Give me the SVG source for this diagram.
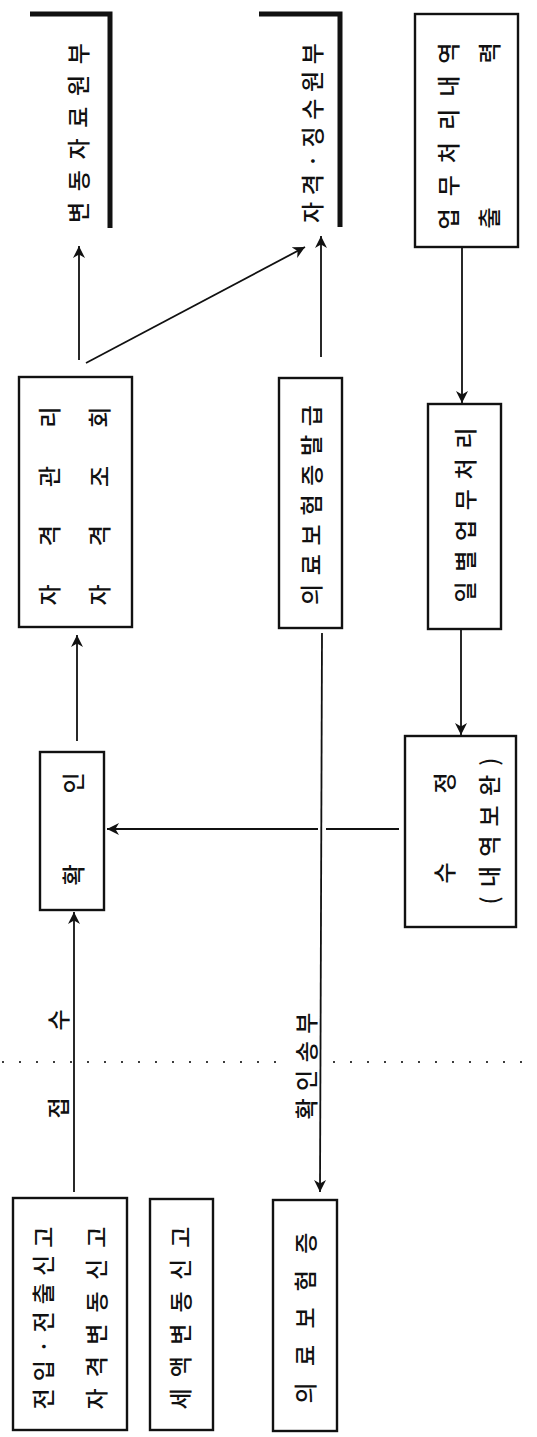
<svg xmlns="http://www.w3.org/2000/svg" width="537" height="1437" viewBox="0 0 537 1437">
<defs>
<marker id="ah" viewBox="0 0 10 10" refX="10" refY="5" markerWidth="12" markerHeight="12" markerUnits="userSpaceOnUse" orient="auto">
<path d="M0,0 L10,5 L0,10 L3,5 Z" fill="#111"/>
</marker>
<style>
.box{fill:#fff;stroke:#111;stroke-width:2.4}
.t{font-family:"Noto Sans CJK KR","Noto Sans",sans-serif;font-size:23px;font-weight:500;fill:#111;text-anchor:middle;dominant-baseline:central}
.ln{stroke:#111;stroke-width:1.8;fill:none}
.ar{stroke:#111;stroke-width:1.8;fill:none;marker-end:url(#ah)}
.br{stroke:#111;stroke-width:5;fill:none}
.dot{stroke:#111;stroke-width:2.2;stroke-linecap:round;stroke-dasharray:0 17;fill:none}
</style>
</defs>
<rect width="537" height="1437" fill="#fff"/>

<g id="connectors">
<line class="dot" x1="3" y1="1062" x2="285" y2="1062"/>
<line class="dot" x1="334" y1="1062" x2="537" y2="1062"/>
<line class="ar" x1="74" y1="1192" x2="74" y2="912"/>
<line class="ar" x1="77" y1="741" x2="77" y2="635"/>
<line class="ar" x1="79" y1="360" x2="79" y2="246"/>
<line class="ar" x1="86" y1="363" x2="305" y2="247"/>
<line class="ar" x1="321" y1="357" x2="321" y2="236"/>
<line class="ar" x1="322" y1="633" x2="320" y2="1192"/>
<line class="ar" x1="462" y1="247" x2="462" y2="403"/>
<line class="ar" x1="461" y1="629" x2="461" y2="735"/>
<line class="ln" x1="399" y1="829" x2="326" y2="829"/>
<line class="ar" x1="318" y1="829" x2="107" y2="829"/>
<text class="t" x="57" y="1108" transform="rotate(-90 57 1108)">접</text>
<text class="t" x="57" y="1020" transform="rotate(-90 57 1020)">수</text>
<text class="t" x="305" y="1066" transform="rotate(-90 305 1066)" textLength="107" lengthAdjust="spacing">확인송부</text>
</g>

<g id="node-jeonip">
<rect class="box" x="13" y="1198" width="114" height="232"/>
<text class="t" x="42" y="1318" transform="rotate(-90 42 1318)" textLength="183" lengthAdjust="spacing">전입·전출신고</text>
<text class="t" x="95" y="1318" transform="rotate(-90 95 1318)" textLength="183" lengthAdjust="spacing">자격변동신고</text>
</g>

<g id="node-seaek">
<rect class="box" x="150" y="1199" width="63" height="231"/>
<text class="t" x="179" y="1318" transform="rotate(-90 179 1318)" textLength="183" lengthAdjust="spacing">세액변동신고</text>
</g>

<g id="node-card">
<rect class="box" x="273" y="1200" width="64" height="231"/>
<text class="t" x="304" y="1318" transform="rotate(-90 304 1318)" textLength="171" lengthAdjust="spacing">의료보험증</text>
</g>

<g id="node-confirm">
<rect class="box" x="40" y="752" width="64" height="158"/>
<text class="t" x="72" y="875" transform="rotate(-90 72 875)">확</text>
<text class="t" x="72" y="783" transform="rotate(-90 72 783)">인</text>
</g>

<g id="node-manage">
<rect class="box" x="19" y="377" width="113" height="250"/>
<text class="t" x="48" y="506" transform="rotate(-90 48 506)" textLength="199" lengthAdjust="spacing">자격관리</text>
<text class="t" x="98" y="506" transform="rotate(-90 98 506)" textLength="199" lengthAdjust="spacing">자격조회</text>
</g>

<g id="node-issue">
<rect class="box" x="279" y="378" width="63" height="250"/>
<text class="t" x="310" y="505" transform="rotate(-90 310 505)" textLength="200" lengthAdjust="spacing">의료보험증발급</text>
</g>

<g id="node-daily">
<rect class="box" x="428" y="404" width="73" height="225"/>
<text class="t" x="464" y="515" transform="rotate(-90 464 515)" textLength="175" lengthAdjust="spacing">일별업무처리</text>
</g>

<g id="node-modify">
<rect class="box" x="405" y="736" width="111" height="191"/>
<text class="t" x="443" y="873" transform="rotate(-90 443 873)">수</text>
<text class="t" x="443" y="783" transform="rotate(-90 443 783)">정</text>
<text class="t" x="488" y="831" transform="rotate(-90 488 831)" textLength="147" lengthAdjust="spacing">(내역보완)</text>
</g>

<g id="node-output">
<rect class="box" x="415" y="14" width="103" height="233"/>
<text class="t" x="447" y="136" transform="rotate(-90 447 136)" textLength="187" lengthAdjust="spacing">업무처리내역</text>
<text class="t" x="488" y="218" transform="rotate(-90 488 218)">출</text>
<text class="t" x="488" y="53" transform="rotate(-90 488 53)">력</text>
</g>

<g id="node-change-ledger">
<polyline class="br" points="30,14 110,14 110,228"/>
<text class="t" x="77" y="133" transform="rotate(-90 77 133)" textLength="180" lengthAdjust="spacing">변동자료원부</text>
</g>

<g id="node-qual-ledger">
<polyline class="br" points="259,14 340,14 340,227"/>
<text class="t" x="311" y="133" transform="rotate(-90 311 133)" textLength="180" lengthAdjust="spacing">자격·징수원부</text>
</g>
</svg>
